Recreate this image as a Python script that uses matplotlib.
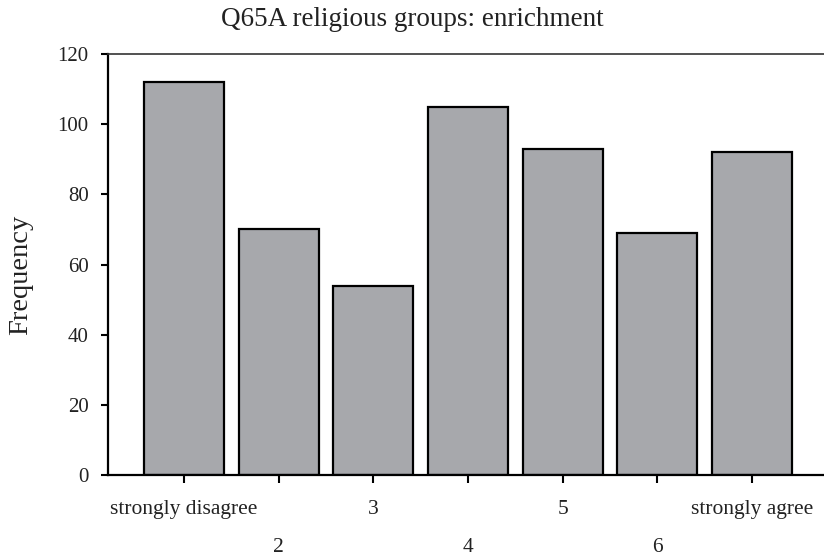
import matplotlib
matplotlib.use("Agg")
import matplotlib.pyplot as plt

categories = ["strongly disagree", "2", "3", "4", "5", "6", "strongly agree"]
frequencies = [112, 70, 54, 105, 93, 69, 92]
y_ticks = [0, 20, 40, 60, 80, 100, 120]

plt.rcParams['font.family'] = ['Liberation Serif', 'DejaVu Serif']

fig = plt.figure(figsize=(8.24, 5.58), dpi=100)
W, H = 824, 558
ax = fig.add_axes([108 / W, 1 - 475 / H, 1 - 108 / W, (475 - 54) / H])

pos = list(range(1, len(categories) + 1))
ax.bar(pos, frequencies, width=0.845, color="#a7a8ac", edgecolor="black", linewidth=1.6, zorder=2)

ax.set_xlim(0.197, 7.76)
ax.set_ylim(0, 120)
ax.set_yticks(y_ticks)
ax.set_yticklabels([str(v) for v in y_ticks], fontsize=15)

major_pos = pos[0::2]
minor_pos = pos[1::2]
ax.set_xticks(major_pos)
ax.set_xticklabels(categories[0::2], fontsize=15.5)
ax.set_xticks(minor_pos, minor=True)
ax.set_xticklabels(categories[1::2], minor=True, fontsize=15.5)

ax.tick_params(axis='x', which='major', direction='out', length=6, width=1.5, pad=12, colors='black', labelcolor='#222222')
ax.tick_params(axis='x', which='minor', direction='out', length=6, width=1.5, pad=39, colors='black', labelcolor='#222222')
ax.tick_params(axis='y', direction='out', length=5, width=1.5, pad=9, labelcolor='#222222')

for s in ['left', 'bottom', 'top']:
    ax.spines[s].set_linewidth(1.6)
    ax.spines[s].set_color('black')
ax.spines['top'].set_linewidth(1.2)
ax.spines['top'].set_color('#333333')
ax.spines['right'].set_visible(False)

fig.text(0.5, 1 - 20 / H, "Q65A religious groups: enrichment", ha='center', va='center', fontsize=19.5, color='#222222')
fig.text(21 / W, 1 - 275 / H, "Frequency", ha='center', va='center', rotation=90, fontsize=20.5, color='#222222')

fig.savefig("out.png", dpi=100)
